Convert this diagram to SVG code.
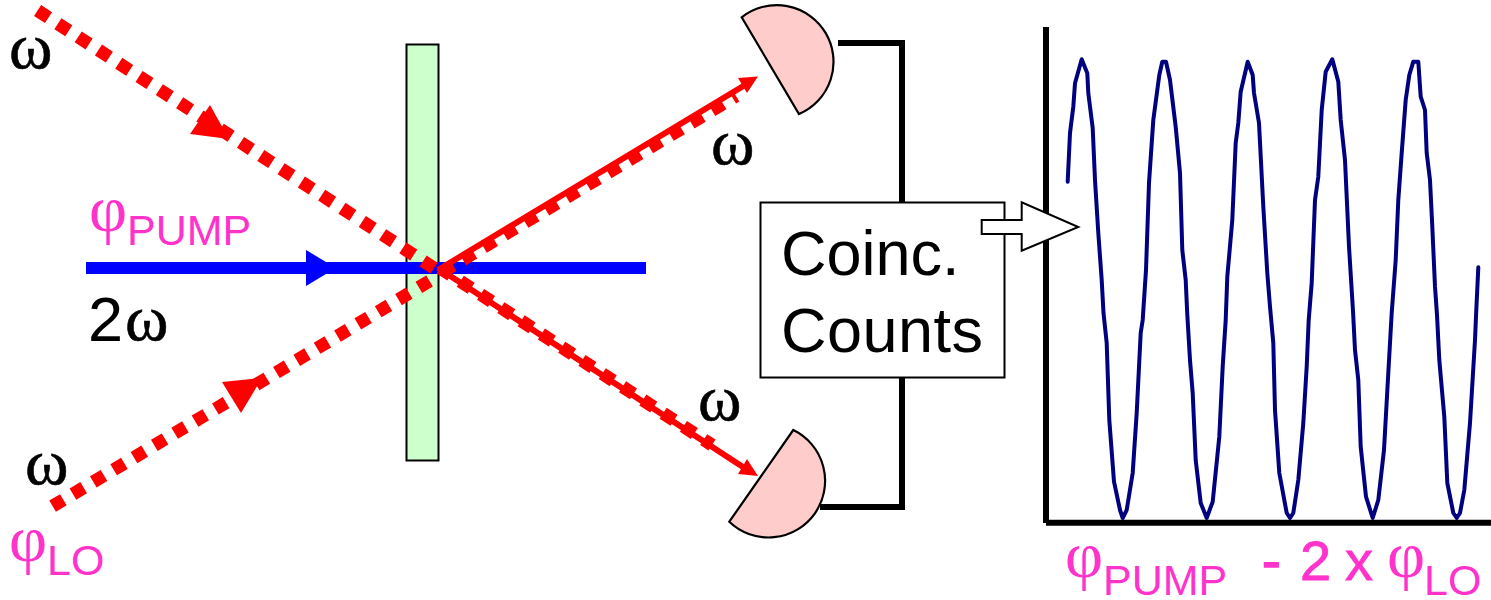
<svg xmlns="http://www.w3.org/2000/svg" width="1491" height="600" viewBox="0 0 1491 600">
<style>
.dot{fill:none;stroke:#ff0000;stroke-width:13;stroke-dasharray:13 11.2}
.dot2{fill:none;stroke:#ff0000;stroke-width:13;stroke-dasharray:12.5 11.2}
.red{fill:#ff0000;stroke:none}
.wire{fill:none;stroke:#000;stroke-width:6}
.det{fill:#ffcccc;stroke:#000;stroke-width:2.2}
.om{font-family:"Liberation Serif",serif;font-size:66px;fill:#000;stroke:#000;stroke-width:.6}
.ph{font-family:"Liberation Serif",serif;font-size:66px;fill:#ff33cc}
.sub{font-family:"Liberation Sans",sans-serif;font-size:43px;fill:#ff33cc}
.big{font-family:"Liberation Sans",sans-serif;font-size:63px;fill:#000}
.pk{font-family:"Liberation Sans",sans-serif;font-size:56px;fill:#ff33cc;stroke:#ff33cc;stroke-width:.8}
</style>
<rect width="1491" height="600" fill="#fff"/>
<g id="plate"><rect x="406.5" y="44.5" width="32" height="416" fill="#ccffcc" stroke="#000" stroke-width="2"/></g>
<g id="connectors">
<rect x="86" y="262" width="560" height="12" fill="#0000ff"/>
<polygon points="306,250 306,286 336,268" fill="#0000ff"/>
<path class="dot" d="M37.6,10.5 L440,272"/>
<polygon class="red" points="210,105 190,134 229,139"/>
<path class="dot2" d="M52.6,506.2 L438,276"/>
<polygon class="red" points="222,382 241,413 262,378"/>
<path class="dot" d="M442,272 L736,96"/>
<path d="M438,270 L745,85" fill="none" stroke="#ff0000" stroke-width="6"/>
<polygon class="red" points="758,76.5 738,78 747,93"/>
<path class="dot" d="M440,268 L712,445"/>
<path d="M438,268 L746,469" fill="none" stroke="#ff0000" stroke-width="6"/>
<polygon class="red" points="758,476 738,474 747,459"/>
<path class="wire" d="M838,43 H902 V203"/>
<path class="wire" d="M902,378 V507 H820"/>
</g>
<g id="detector-top"><path class="det" d="M741.7,17.3 A56.7 56.7 0 1 1 799,114 Z"/></g>
<g id="detector-bottom"><path class="det" d="M793.3,430 A56.6 56.6 0 1 1 729.3,521.7 Z"/></g>
<g id="box">
<rect x="760.5" y="202.5" width="244" height="175" fill="#fff" stroke="#000" stroke-width="2"/>
<text class="big" x="781" y="275">Coinc.</text>
<text class="big" x="781" y="352" letter-spacing=".5">Counts</text>
</g>
<g id="plot">
<path d="M1067.7,181.7 L1070,133 1073.3,106.7 1075,83.3 1081.7,59.3 1087.3,73.3 1088.3,93 1092.7,128 1095,180 1098.3,233 1101.7,280 1103.5,313 1106.7,343 1109.3,420 1114,481.7 1120,510 1122.7,518 1126.7,510 1132.7,473 1136.7,413 1140.7,333 1142.7,320 1146,270 1149,183 1153.3,120 1159.3,75 1162.3,61.7 1166,61.7 1170,80 1175.7,126.7 1180,173 1182.3,250 1185.7,280 1187.2,313 1190,360 1192.7,393 1195.7,460 1200.7,503 1206.7,518 1212.7,501.7 1219.3,436.7 1222.7,366.7 1225.7,320 1227.3,276.7 1232.3,220 1235.7,143 1238.3,123 1240.7,91.7 1247.7,61.7 1252.7,75 1254,93 1259,123 1263.3,206.7 1267.3,273 1270,306.7 1273.3,343 1275,410 1279.3,473 1286.7,513 1290,518 1293.3,513 1298.3,480 1303.3,423 1306.7,366.7 1308.7,320 1311.7,283 1315,200 1318.3,176.7 1321.7,110 1325.7,71.7 1332.3,59.3 1338.3,81.7 1340.7,120 1345,160 1349,246.7 1353,311 1355,350 1358.3,380 1360.7,446.7 1366,496.7 1372.7,518 1378.3,500 1384,450 1388.3,373 1391.7,313 1395.7,260 1398.3,200 1401.7,153 1405.7,100 1409.3,75 1413.3,61.7 1418.3,61.7 1420.7,96.7 1425,110 1426.7,153 1430,180 1432.3,226.7 1435,286.7 1437,315 1439.3,360 1444.3,416.7 1447.3,483 1453.3,513 1456.7,518 1460,513 1464.3,490 1470,423 1475,340 1476,316.7 1478.3,267.3" fill="none" stroke="#000080" stroke-width="4" stroke-linecap="round" stroke-linejoin="round"/>
<path class="wire" d="M1046,27 V523"/>
<path class="wire" d="M1046,522.7 H1491"/>
</g>
<g id="output-arrow"><polygon points="981.7,220 1021.7,220 1021.7,202.3 1078.3,227 1021.7,250.7 1021.7,234 981.7,234" fill="#fff" stroke="#000" stroke-width="2"/></g>
<g id="labels">
<text class="om" x="9" y="68">ω</text>
<text class="om" x="25" y="484">ω</text>
<text class="om" x="711" y="164">ω</text>
<text class="om" x="698" y="420">ω</text>
<text class="big" x="88" y="341">2</text>
<text class="om" x="125" y="340">ω</text>
<text class="ph" x="89" y="231">φ</text>
<text class="sub" x="127" y="245">PUMP</text>
<text class="ph" x="9" y="561">φ</text>
<text class="sub" x="47" y="575">LO</text>
<text class="ph" x="1065" y="577">φ</text>
<text class="sub" x="1103" y="595">PUMP</text>
<text class="pk" x="1262" y="580"><tspan stroke-width="1.5">-</tspan><tspan x="1300">2</tspan><tspan x="1345">x</tspan></text>
<text class="ph" x="1387" y="577">φ</text>
<text class="sub" x="1424" y="595">LO</text>
</g>
</svg>
